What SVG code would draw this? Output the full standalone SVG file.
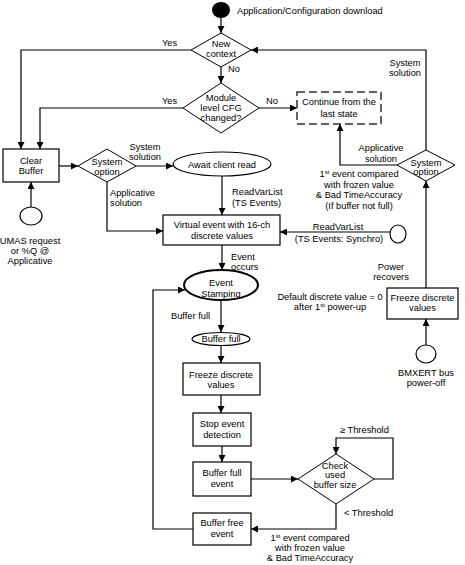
<svg xmlns="http://www.w3.org/2000/svg" width="465" height="565" viewBox="0 0 465 565">
<style>
text{font-family:"Liberation Sans",Arial,sans-serif;font-size:9.3px;fill:#000}
.c{text-anchor:middle}
.box{fill:#fff;stroke:#000;stroke-width:1.2}
.dia{fill:#fff;stroke:#000;stroke-width:1}
.dash{fill:#fff;stroke:#333;stroke-width:1.5;stroke-dasharray:8 4}
.ell{fill:#fff;stroke:#000;stroke-width:1.2}
.thick{fill:#fff;stroke:#000;stroke-width:2}
.ln{fill:none;stroke:#000;stroke-width:1.2;marker-end:url(#ah)}
.sup{font-size:6px}
</style>
<defs>
<marker id="ah" viewBox="0 0 10 10" refX="10" refY="5" markerWidth="9" markerHeight="7" markerUnits="userSpaceOnUse" orient="auto">
<path d="M0,0 L10,5 L0,10 z" fill="#000"/>
</marker>
</defs>
<rect width="465" height="565" fill="#fff"/>

<g id="connectors">
<path class="ln" d="M221,18 V33"/>
<path class="ln" d="M221,67 V83"/>
<path class="ln" d="M191,50 H21 V149"/>
<path class="ln" d="M183,108 H40 V149"/>
<path class="ln" d="M259,108 H297"/>
<path class="ln" d="M59,166 H78"/>
<path class="ln" d="M136,166 H173"/>
<path class="ln" d="M222,176 V215"/>
<path class="ln" d="M107,182 V231 H163"/>
<path class="ln" d="M390,232 H280"/>
<path class="ln" d="M222,245 V270"/>
<path class="ln" d="M221,300 V332"/>
<path class="ln" d="M221,345 V363"/>
<path class="ln" d="M221,395 V413"/>
<path class="ln" d="M222,446 V462"/>
<path class="ln" d="M251,479 H298"/>
<path class="ln" d="M374,479 H393 V438 H336 V454"/>
<path class="ln" d="M336,504 V529 H251"/>
<path class="ln" d="M193,529 H153 V290 H185"/>
<path class="ln" d="M426,150 V50 H251"/>
<path class="ln" d="M397,165 H340 V124"/>
<path class="ln" d="M426,288 V181"/>
<path class="ln" d="M426,345 V319"/>
<path class="ln" d="M31,207 V182"/>
</g>

<g id="edge-labels">
<text x="228" y="72">No</text>
<text x="162" y="46">Yes</text>
<text x="162" y="104">Yes</text>
<text x="266" y="104">No</text>
<text class="c" x="145" y="150">System</text>
<text class="c" x="145" y="160">solution</text>
<text x="110" y="196">Applicative</text>
<text x="110" y="206">solution</text>
<text x="232" y="195">ReadVarList</text>
<text x="232" y="206">(TS Events)</text>
<text class="c" x="338" y="230">ReadVarList</text>
<text class="c" x="339" y="242">(TS Events: Synchro)</text>
<text x="231" y="260">Event</text>
<text x="231" y="270">occurs</text>
<text x="171" y="319">Buffer full</text>
<text x="340" y="433">≥ Threshold</text>
<text x="344" y="516">&lt; Threshold</text>
<text class="c" x="310" y="541">1<tspan class="sup" dy="-3">st</tspan><tspan dy="3"> event compared</tspan></text>
<text class="c" x="310" y="551">with frozen value</text>
<text class="c" x="310" y="561">&amp; Bad TimeAccuracy</text>
<text class="c" x="405" y="66">System</text>
<text class="c" x="405" y="76">solution</text>
<text class="c" x="381" y="151">Applicative</text>
<text class="c" x="381" y="162">solution</text>
<text class="c" x="359" y="177">1<tspan class="sup" dy="-3">st</tspan><tspan dy="3"> event compared</tspan></text>
<text class="c" x="359" y="187.5">with frozen value</text>
<text class="c" x="359" y="198">&amp; Bad TimeAccuracy</text>
<text class="c" x="359" y="208.5">(If buffer not full)</text>
<text class="c" x="391" y="270">Power</text>
<text class="c" x="391" y="280">recovers</text>
<text class="c" x="330" y="300">Default discrete value = 0</text>
<text class="c" x="330" y="310">after 1<tspan class="sup" dy="-3">st</tspan><tspan dy="3"> power-up</tspan></text>
</g>

<g id="start">
<ellipse cx="221" cy="10" rx="9" ry="8" fill="#000"/>
<text x="237" y="14">Application/Configuration download</text>
</g>

<g id="new-context">
<polygon class="dia" points="221,33 251,50 221,67 191,50"/>
<text class="c" x="221" y="47">New</text>
<text class="c" x="221" y="57">context</text>
</g>

<g id="module-cfg">
<polygon class="dia" points="221,83 259,108 221,133 183,108"/>
<text class="c" x="221" y="101">Module</text>
<text class="c" x="221" y="111">level CFG</text>
<text class="c" x="221" y="121">changed?</text>
</g>

<g id="continue">
<rect class="dash" x="297" y="92" width="84" height="32"/>
<text class="c" x="339" y="105">Continue from the</text>
<text class="c" x="339" y="117">last state</text>
</g>

<g id="clear-buffer">
<rect class="box" x="3" y="149" width="56" height="33"/>
<text class="c" x="31" y="164">Clear</text>
<text class="c" x="31" y="174">Buffer</text>
</g>

<g id="umas">
<ellipse class="ell" cx="31" cy="216" rx="11" ry="9"/>
<text class="c" x="30" y="244">UMAS request</text>
<text class="c" x="30" y="254">or %Q @</text>
<text class="c" x="30" y="264">Applicative</text>
</g>

<g id="system-option-left">
<polygon class="dia" points="107,149 136,166 107,182 78,166"/>
<text class="c" x="107" y="165">System</text>
<text class="c" x="107" y="175">option</text>
</g>

<g id="await">
<ellipse class="ell" cx="222" cy="164" rx="49" ry="12"/>
<text class="c" x="222" y="168">Await client read</text>
</g>

<g id="virtual-event">
<rect class="box" x="163" y="215" width="117" height="30"/>
<text class="c" x="222" y="228">Virtual event with 16-ch</text>
<text class="c" x="222" y="239">discrete values</text>
</g>

<g id="synchro">
<ellipse class="ell" cx="398" cy="234" rx="8" ry="9"/>
</g>

<g id="event-stamping">
<ellipse class="thick" cx="221" cy="285" rx="37" ry="15"/>
<text class="c" x="221" y="286">Event</text>
<text class="c" x="221" y="297">Stamping</text>
</g>

<g id="buffer-full-state">
<ellipse class="ell" cx="221" cy="339" rx="29" ry="6.5"/>
<text class="c" x="221" y="342">Buffer full</text>
</g>

<g id="freeze-left">
<rect class="box" x="183" y="363" width="77" height="32"/>
<text class="c" x="221" y="378">Freeze discrete</text>
<text class="c" x="221" y="388">values</text>
</g>

<g id="stop-detection">
<rect class="box" x="193" y="413" width="58" height="33"/>
<text class="c" x="222" y="427">Stop event</text>
<text class="c" x="222" y="438">detection</text>
</g>

<g id="buffer-full-event">
<rect class="box" x="193" y="462" width="58" height="34"/>
<text class="c" x="222" y="476">Buffer full</text>
<text class="c" x="222" y="487">event</text>
</g>

<g id="check-buffer">
<polygon class="dia" points="336,454 374,479 336,504 298,479"/>
<text class="c" x="335" y="469">Check</text>
<text class="c" x="335" y="478">used</text>
<text class="c" x="335" y="488">buffer size</text>
</g>

<g id="buffer-free-event">
<rect class="box" x="193" y="513" width="58" height="32"/>
<text class="c" x="222" y="526">Buffer free</text>
<text class="c" x="222" y="537">event</text>
</g>

<g id="system-option-right">
<polygon class="dia" points="426,150 455,165 426,181 397,165"/>
<text class="c" x="426" y="166">System</text>
<text class="c" x="426" y="175">option</text>
</g>

<g id="freeze-right">
<rect class="box" x="387" y="288" width="71" height="31"/>
<text class="c" x="422.5" y="301">Freeze discrete</text>
<text class="c" x="422.5" y="311">values</text>
</g>

<g id="bmxert">
<ellipse class="ell" cx="426" cy="354" rx="10" ry="9"/>
<text class="c" x="426" y="376">BMXERT bus</text>
<text class="c" x="426" y="386">power-off</text>
</g>
</svg>
